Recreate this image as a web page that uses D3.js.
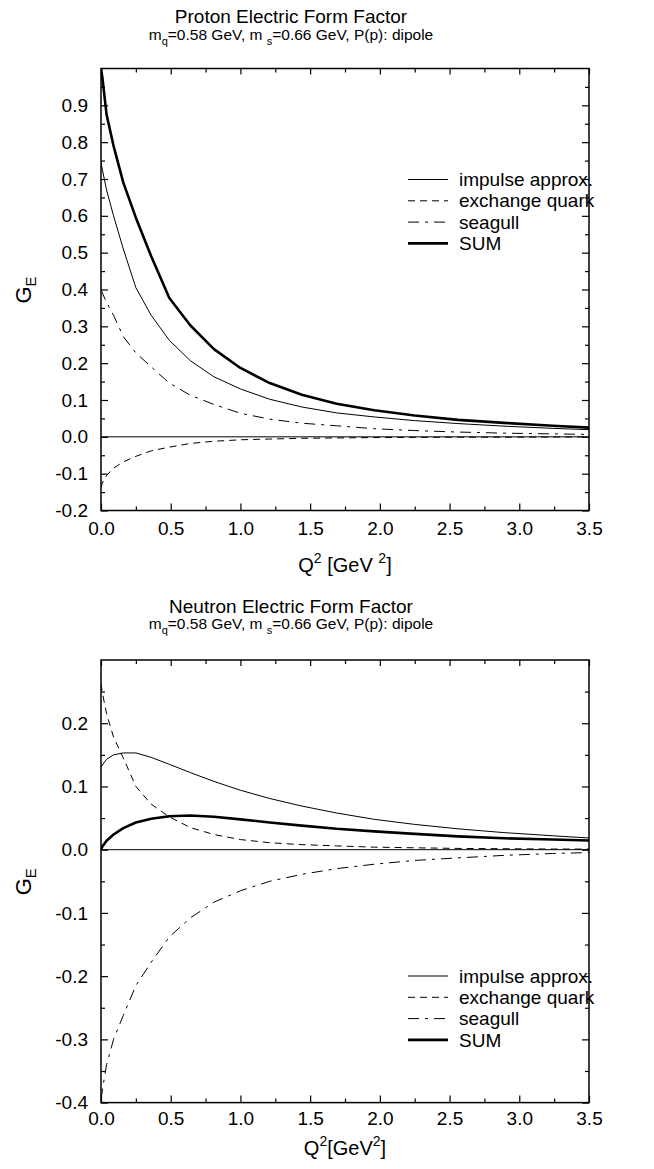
<!DOCTYPE html>
<html>
<head>
<meta charset="utf-8">
<script src="https://cdn.jsdelivr.net/npm/d3@7"></script>
<style>
  body { margin: 0; background: #fff; }
  svg { display: block; font-family: "Liberation Sans", Arial, sans-serif; }
</style>
</head>
<body>
<svg id="chart" width="654" height="1169"></svg>
<script>
// Q^2 grid the curves were computed on (Q = 0, 0.1, ... 1.9 GeV)
const q2 = [0, 0.01, 0.04, 0.09, 0.16, 0.25, 0.36, 0.49, 0.64, 0.81, 1.0, 1.21, 1.44, 1.69, 1.96, 2.25, 2.56, 2.89, 3.24, 3.61];

const seriesNames = ["impulse approx.", "exchange quark", "seagull", "SUM"];

// proton G_E
const protonImpulse = [0.745, 0.725, 0.67, 0.6, 0.51, 0.405, 0.33, 0.262, 0.207, 0.163, 0.13, 0.102, 0.081, 0.065, 0.054, 0.044, 0.036, 0.029, 0.023, 0.018];
const protonExchange = [-0.138, -0.125, -0.105, -0.085, -0.068, -0.053, -0.038, -0.028, -0.018, -0.012, -0.008, -0.006, -0.004, -0.003, -0.002, -0.0015, -0.001, -0.001, -0.0005, 0];
const protonSeagull = [0.4, 0.39, 0.365, 0.33, 0.272, 0.228, 0.19, 0.146, 0.113, 0.088, 0.064, 0.048, 0.037, 0.03, 0.022, 0.017, 0.013, 0.01, 0.008, 0.006];
const protonSum = [1.0, 0.975, 0.875, 0.79, 0.69, 0.595, 0.49, 0.377, 0.303, 0.238, 0.187, 0.146, 0.114, 0.09, 0.072, 0.058, 0.046, 0.038, 0.03, 0.023];

// neutron G_E
const neutronImpulse = [0.13, 0.134, 0.143, 0.15, 0.153, 0.153, 0.146, 0.135, 0.122, 0.108, 0.094, 0.081, 0.069, 0.058, 0.048, 0.04, 0.033, 0.027, 0.022, 0.017];
const neutronExchange = [0.262, 0.248, 0.215, 0.178, 0.145, 0.1, 0.072, 0.052, 0.035, 0.024, 0.016, 0.011, 0.008, 0.006, 0.004, 0.003, 0.002, 0.0015, 0.001, 0.001];
const neutronSeagull = [-0.395, -0.38, -0.34, -0.3, -0.262, -0.215, -0.178, -0.138, -0.108, -0.083, -0.065, -0.05, -0.039, -0.03, -0.023, -0.017, -0.013, -0.009, -0.006, -0.004];
const neutronSum = [0, 0.005, 0.014, 0.024, 0.034, 0.043, 0.049, 0.053, 0.054, 0.052, 0.048, 0.043, 0.038, 0.033, 0.029, 0.025, 0.021, 0.018, 0.016, 0.014];

const xTicks = [0, 0.5, 1.0, 1.5, 2.0, 2.5, 3.0, 3.5];
const xMinor = [0.25, 0.75, 1.25, 1.75, 2.25, 2.75, 3.25];
const protonYTicks = [-0.2, -0.1, 0.0, 0.1, 0.2, 0.3, 0.4, 0.5, 0.6, 0.7, 0.8, 0.9];
const protonYMinor = [-0.15, -0.05, 0.05, 0.15, 0.25, 0.35, 0.45, 0.55, 0.65, 0.75, 0.85, 0.95];
const neutronYTicks = [-0.4, -0.3, -0.2, -0.1, 0.0, 0.1, 0.2];
const neutronYMinor = [-0.35, -0.25, -0.15, -0.05, 0.05, 0.15, 0.25];

const styles = [
  { width: 1, dash: null },
  { width: 1, dash: "7,5" },
  { width: 1, dash: "11,6,3,6" },
  { width: 2.6, dash: null }
];

const svg = d3.select("#chart");
const W = 488;
const fmt = d => d.toFixed(1); // plain hyphen minus like the original

function subtitle(g, cx, y) {
  const t = g.append("text").attr("x", cx).attr("y", y)
    .attr("text-anchor", "middle").attr("font-size", 15.5);
  t.append("tspan").text("m");
  t.append("tspan").attr("font-size", 11).attr("dy", 5).text("q");
  t.append("tspan").attr("dy", -5).text("=0.58 GeV, m ");
  t.append("tspan").attr("font-size", 11).attr("dy", 5).text("s");
  t.append("tspan").attr("dy", -5).text("=0.66 GeV, P(p): dipole");
}

function panel(cfg) {
  const H = cfg.height;
  const g = svg.append("g").attr("transform", `translate(101,${cfg.top})`);
  const x = d3.scaleLinear().domain([0, 3.5]).range([0, W]);
  const y = d3.scaleLinear().domain(cfg.yDomain).range([H, 0]);

  // titles
  svg.append("text").attr("x", 291).attr("y", cfg.titleY)
    .attr("text-anchor", "middle").attr("font-size", 19).text(cfg.title);
  subtitle(svg, 291, cfg.titleY + 16.5);

  const noDomain = s => s.select(".domain").remove();
  // inward ticks on all four sides
  const tickSets = [
    [d3.axisBottom(x).tickValues(xTicks), `translate(0,${H})`, -7],
    [d3.axisBottom(x).tickValues(xMinor), `translate(0,${H})`, -4],
    [d3.axisTop(x).tickValues(xTicks), null, -6],
    [d3.axisTop(x).tickValues(xMinor), null, -4],
    [d3.axisLeft(y).tickValues(cfg.yTicks), null, -7],
    [d3.axisLeft(y).tickValues(cfg.yMinor), null, -4],
    [d3.axisRight(y).tickValues(cfg.yTicks), `translate(${W},0)`, -7],
    [d3.axisRight(y).tickValues(cfg.yMinor), `translate(${W},0)`, -4]
  ];
  tickSets.forEach(([ax, tr, len]) => {
    g.append("g").attr("transform", tr).call(ax.tickSize(len).tickFormat(""))
      .call(noDomain)
      .selectAll("line").attr("stroke", "#000").attr("stroke-width", 1.2);
  });

  // tick labels
  g.append("g").attr("transform", `translate(0,${H})`)
    .call(d3.axisBottom(x).tickValues(xTicks).tickSize(0).tickPadding(cfg.xPad).tickFormat(fmt))
    .call(noDomain)
    .selectAll("text").attr("font-size", 19).attr("font-family", null).attr("fill", "#000");
  g.append("g")
    .call(d3.axisLeft(y).tickValues(cfg.yTicks).tickSize(0).tickPadding(13).tickFormat(fmt))
    .call(noDomain)
    .selectAll("text").attr("font-size", 19).attr("font-family", null).attr("fill", "#000");

  // zero line
  g.append("line").attr("x1", 0).attr("x2", W).attr("y1", y(0)).attr("y2", y(0))
    .attr("stroke", "#000").attr("stroke-width", 1);

  // curves
  const clipId = "clip-" + Math.round(cfg.top);
  g.append("clipPath").attr("id", clipId).append("rect").attr("width", W).attr("height", H);
  const line = d3.line().x((d, i) => x(q2[i])).y(d => y(d));
  cfg.series.forEach((s, i) => {
    g.append("path").datum(s).attr("d", line)
      .attr("clip-path", `url(#${clipId})`)
      .attr("fill", "none").attr("stroke", "#000")
      .attr("stroke-width", styles[i].width)
      .attr("stroke-dasharray", styles[i].dash)
      .attr("stroke-linejoin", "round");
  });

  // frame
  g.append("rect").attr("width", W).attr("height", H)
    .attr("fill", "none").attr("stroke", "#000").attr("stroke-width", 1.5);

  // axis titles
  const yl = svg.append("text").attr("transform", `translate(31,${cfg.top + H / 2 + 14}) rotate(-90)`)
    .attr("font-size", 22);
  yl.append("tspan").text("G");
  yl.append("tspan").attr("font-size", 15).attr("dy", 5).text("E");

  const xl = svg.append("text").attr("x", 101 + W / 2).attr("y", cfg.xLabelY)
    .attr("text-anchor", "middle").attr("font-size", 20);
  xl.append("tspan").text("Q");
  xl.append("tspan").attr("font-size", 14).attr("dy", -9).text("2");
  xl.append("tspan").attr("dy", 9).text(cfg.gap + "[GeV" + cfg.gap);
  xl.append("tspan").attr("font-size", 14).attr("dy", -9).text("2");
  xl.append("tspan").attr("dy", 9).text("]");

  // legend
  const lg = svg.append("g").attr("transform", `translate(408,${cfg.legendY})`);
  seriesNames.forEach((name, i) => {
    const row = lg.append("g").attr("transform", `translate(0,${i * 21.3})`);
    row.append("line").attr("x1", 0).attr("x2", 40)
      .attr("stroke", "#000").attr("stroke-width", styles[i].width)
      .attr("stroke-dasharray", styles[i].dash);
    row.append("text").attr("x", 51).attr("dy", "0.35em").attr("font-size", 19).text(name);
  });
}

panel({
  top: 68.5, height: 442, yDomain: [-0.2, 1.0], titleY: 23,
  title: "Proton Electric Form Factor",
  yTicks: protonYTicks, yMinor: protonYMinor,
  series: [protonImpulse, protonExchange, protonSeagull, protonSum],
  legendY: 179.5, gap: " ", xPad: 11, xLabelY: 572
});

panel({
  top: 660, height: 442.6, yDomain: [-0.4, 0.3], titleY: 612.7,
  title: "Neutron Electric Form Factor",
  yTicks: neutronYTicks, yMinor: neutronYMinor,
  series: [neutronImpulse, neutronExchange, neutronSeagull, neutronSum],
  legendY: 976, gap: "", xPad: 9, xLabelY: 1155
});
</script>
</body>
</html>
